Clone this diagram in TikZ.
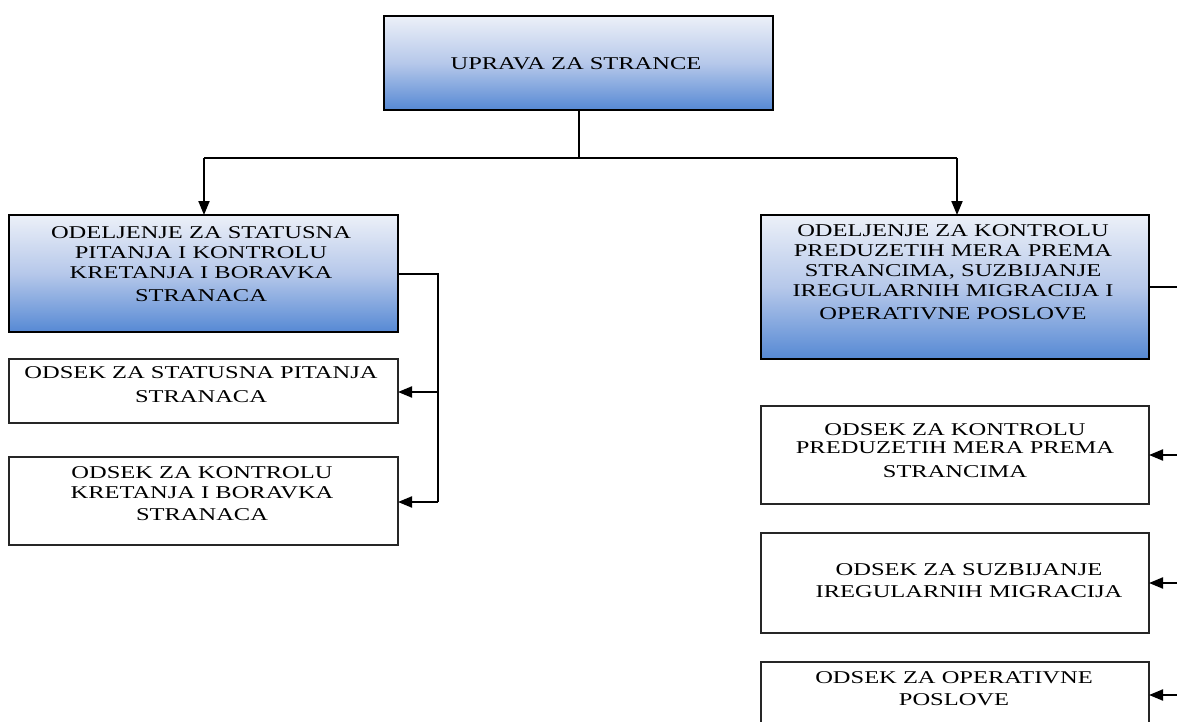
\documentclass[tikz,border=0pt]{standalone}
\usepackage{fontspec}
\setmainfont{Liberation Serif}[FakeStretch=1.36]
\usetikzlibrary{arrows.meta}
\definecolor{gTop}{HTML}{ECF0F8}
\definecolor{gMid}{HTML}{B6C8EA}
\definecolor{gBot}{HTML}{5689D4}
\begin{document}
\begin{tikzpicture}[x=1pt,y=-1pt,
  bluebox/.style={draw=black,line width=1.5pt,rectangle,inner sep=0pt,outer sep=0pt,
     top color=gTop,bottom color=gBot,middle color=gMid},
  whitebox/.style={draw=black!85,line width=1.4pt,rectangle,inner sep=0pt,outer sep=0pt,fill=white},
  txt/.style={align=center,inner sep=0pt,font=\fontsize{18}{20}\selectfont},
  conn/.style={line width=2pt,black},
  arr/.style={conn,-{Triangle[length=14pt,width=11pt]}}]
\clip (0,0) rectangle (1177,722);
\fill[white] (0,0) rectangle (1177,722);
% boxes
\node[bluebox,minimum width=389pt,minimum height=94pt] (top) at (578.5,63) {};
\node[bluebox,minimum width=389pt,minimum height=117pt] (L1) at (203.5,273.5) {};
\node[whitebox,minimum width=389pt,minimum height=64pt] (L2) at (203.5,391) {};
\node[whitebox,minimum width=389pt,minimum height=88pt] (L3) at (203.5,501) {};
\node[bluebox,minimum width=388pt,minimum height=144pt] (R0) at (955,287) {};
\node[whitebox,minimum width=388pt,minimum height=98pt] (R1) at (955,455) {};
\node[whitebox,minimum width=388pt,minimum height=100pt] (R2) at (955,583) {};
\node[whitebox,minimum width=388pt,minimum height=78pt] (R3) at (955,701) {};
% texts
\node[txt] (topt) at (576,64) {UPRAVA ZA STRANCE};
\node[txt] (L1t) at (201,264) {ODELJENJE ZA STATUSNA\\PITANJA I KONTROLU\\KRETANJA I BORAVKA\\[3pt]STRANACA};
\node[txt] (L2t) at (201,385) {ODSEK ZA STATUSNA PITANJA\\[4pt]STRANACA};
\node[txt] (L3t) at (202,494) {ODSEK ZA KONTROLU\\KRETANJA I BORAVKA\\[2pt]STRANACA};
\node[txt] (R0t) at (953,272.5) {ODELJENJE ZA KONTROLU\\PREDUZETIH MERA PREMA\\STRANCIMA, SUZBIJANJE\\IREGULARNIH MIGRACIJA I\\[3pt]OPERATIVNE POSLOVE};
\node[txt] (R1t) at (955,451) {ODSEK ZA KONTROLU\\[-2pt]PREDUZETIH MERA PREMA\\[4pt]STRANCIMA};
\node[txt] (R2t) at (969,581) {ODSEK ZA SUZBIJANJE\\[2pt]IREGULARNIH MIGRACIJA};
\node[txt] (R3t) at (954,689) {ODSEK ZA OPERATIVNE\\[2pt]POSLOVE};
% connectors
\coordinate (hub) at (578.5,158);
\coordinate (hl) at (204,158);
\coordinate (hr) at (957,158);
\draw[conn] (top.south) -- (hub);
\draw[conn] (hl) -- (hr);
\draw[arr] (hl) -- (hl |- L1.north);
\draw[arr] (hr) -- (hr |- R0.north);
\coordinate (lb) at (438,273.5);
\coordinate (lb2) at (438,392);
\coordinate (lb3) at (438,502);
\draw[conn] (L1.east) -- (lb) -- (lb3);
\draw[arr] (lb2) -- (lb2 -| L2.east);
\draw[arr] (lb3) -- (lb3 -| L3.east);
\coordinate (rb) at (1190,287);
\coordinate (rb1) at (1190,455);
\coordinate (rb2) at (1190,583);
\coordinate (rb3) at (1190,695);
\draw[conn] (R0.east) -- (rb) -- (rb3);
\draw[arr] (rb1) -- (rb1 -| R1.east);
\draw[arr] (rb2) -- (rb2 -| R2.east);
\draw[arr] (rb3) -- (rb3 -| R3.east);
\end{tikzpicture}
\end{document}
